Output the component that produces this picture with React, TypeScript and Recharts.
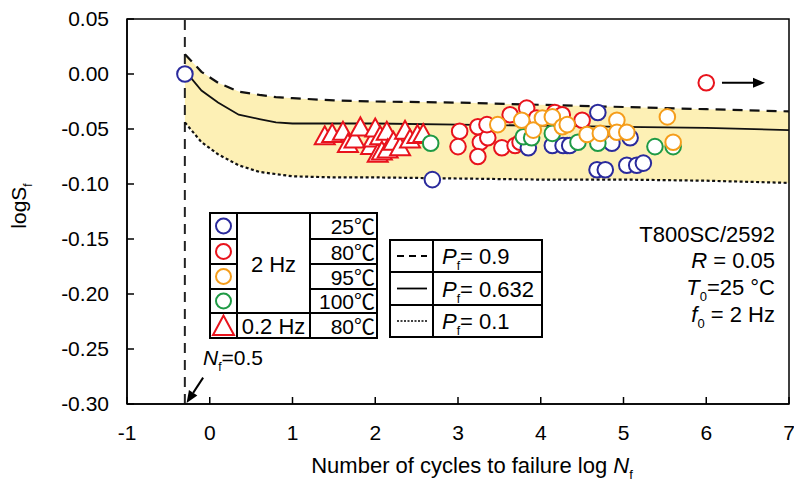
import React from 'react';
import {
  ComposedChart, Area, Line, Scatter, XAxis, YAxis, ReferenceLine, ReferenceArea,
} from 'recharts';

// Weibull fatigue-life bands (log Nf vs log Sf)
const curveLogN = [-0.3, -0.1, 0.1, 0.35, 0.6, 0.8, 1, 1.5, 2, 3, 4, 5, 6, 7];
const p90 = [0.018, 0.002, -0.008, -0.016, -0.019, -0.021, -0.022, -0.024, -0.025, -0.026, -0.028, -0.030, -0.032, -0.034];
const p632 = [0.003, -0.015, -0.026, -0.037, -0.041, -0.044, -0.045, -0.045, -0.045, -0.046, -0.047, -0.048, -0.049, -0.051];
const p10 = [-0.044, -0.062, -0.073, -0.083, -0.089, -0.091, -0.093, -0.094, -0.094, -0.095, -0.096, -0.096, -0.097, -0.099];

// test results [log Nf, log Sf]
const hz2T25: number[][] = [
  [-0.3, 0.0], [2.69, -0.096], [3.85, -0.067], [4.14, -0.065], [4.32, -0.065], [4.27, -0.065],
  [4.35, -0.065], [4.69, -0.035], [4.86, -0.063], [5.08, -0.058], [4.68, -0.087], [4.78, -0.087],
  [5.04, -0.083], [5.16, -0.083], [5.24, -0.081],
];
const hz2T80: number[][] = [
  [3.02, -0.052], [3.0, -0.066], [3.24, -0.048], [3.27, -0.062], [3.24, -0.075], [3.36, -0.058],
  [3.35, -0.046], [3.53, -0.067], [3.63, -0.037], [3.69, -0.065], [3.75, -0.062], [3.83, -0.031],
  [3.95, -0.040], [4.17, -0.035], [4.26, -0.037], [4.5, -0.042], [6.0, -0.008],
];
const hz2T95: number[][] = [
  [3.48, -0.046], [3.77, -0.042], [3.91, -0.051], [4.02, -0.040], [4.14, -0.039], [4.26, -0.048],
  [4.32, -0.046], [4.56, -0.055], [4.72, -0.054], [4.92, -0.042], [4.92, -0.053], [5.04, -0.053],
  [5.53, -0.039], [5.6, -0.062],
];
const hz2T100: number[][] = [
  [2.67, -0.063], [3.79, -0.057], [3.89, -0.058], [4.14, -0.054], [4.45, -0.062], [4.69, -0.063],
  [5.38, -0.066], [5.6, -0.066],
];
const hz02T80: number[][] = [
  [1.39, -0.057], [1.48, -0.055], [1.61, -0.053], [1.67, -0.064], [1.75, -0.060], [1.82, -0.049],
  [1.95, -0.066], [1.98, -0.059], [2.0, -0.050], [2.03, -0.073], [2.06, -0.057], [2.08, -0.071],
  [2.14, -0.053], [2.15, -0.069], [2.22, -0.062], [2.3, -0.067], [2.36, -0.052], [2.42, -0.060],
  [2.51, -0.056], [2.58, -0.055],
];

const xTicks = [-1, 0, 1, 2, 3, 4, 5, 6, 7];
const yTicks = [0.05, 0, -0.05, -0.1, -0.15, -0.2, -0.25, -0.3];

const BLUE = '#2a2a9c';
const RED = '#e8131c';
const ORANGE = '#f59d1b';
const GREEN = '#1f9a45';
const BAND = '#fdf0b5';
const FONT = '"Liberation Sans", Arial, "Noto Sans CJK SC", sans-serif';

const curveData = curveLogN.map((x, i) => ({
  x, p90: p90[i], p632: p632[i], p10: p10[i], band: [p10[i], p90[i]],
}));
const toPts = (arr: number[][]) => arr.map(([x, y]) => ({ x, y }));

const circleShape = (color: string) => (props: any) => (
  <circle cx={props.cx} cy={props.cy} r={7.8} fill="#fff" stroke={color} strokeWidth={2} />
);
const triShape = (props: any) => {
  const { cx, cy } = props;
  return (
    <polygon
      points={`${cx},${cy - 10.5} ${cx - 10},${cy + 7.5} ${cx + 10},${cy + 7.5}`}
      fill="#fff" stroke={RED} strokeWidth={2} strokeLinejoin="miter"
    />
  );
};

const arrowShape = (props: any) => {
  const { x1, y1, x2, y2 } = props;
  const ang = Math.atan2(y2 - y1, x2 - x1);
  const L = 12, W = 5;
  const bx = x2 - L * Math.cos(ang), by = y2 - L * Math.sin(ang);
  const px = -Math.sin(ang) * W, py = Math.cos(ang) * W;
  return (
    <g>
      <line x1={x1} y1={y1} x2={bx} y2={by} stroke="#000" strokeWidth={2} />
      <polygon points={`${x2},${y2} ${bx + px},${by + py} ${bx - px},${by - py}`} fill="#000" />
    </g>
  );
};

function Legends() {
  const rowsL = [213, 239, 264, 289, 313, 338];
  const temps = ['25℃', '80℃', '95℃', '100℃', '80℃'];
  const cols = [BLUE, RED, ORANGE, GREEN];
  const rowsR = [240, 272, 305, 337];
  const dashes = ['7 5', undefined, '2 1.5'];
  const pvals = ['0.9', '0.632', '0.1'];
  return (
    <svg width={794} height={483} style={{ position: 'absolute', left: 0, top: 0, pointerEvents: 'none' }}
      fontFamily={FONT}>
      {/* marker / frequency / temperature table */}
      <rect x={210} y={213} width={167} height={125} fill="#fff" stroke="#000" strokeWidth={2} />
      <line x1={237} y1={213} x2={237} y2={338} stroke="#000" strokeWidth={2} />
      <line x1={310} y1={213} x2={310} y2={338} stroke="#000" strokeWidth={2} />
      {rowsL.slice(1, 4).map((y) => (
        <g key={y}>
          <line x1={210} y1={y} x2={237} y2={y} stroke="#000" strokeWidth={2} />
          <line x1={310} y1={y} x2={377} y2={y} stroke="#000" strokeWidth={2} />
        </g>
      ))}
      <line x1={210} y1={313} x2={377} y2={313} stroke="#000" strokeWidth={2} />
      {cols.map((c, i) => (
        <circle key={c} cx={223.5} cy={(rowsL[i] + rowsL[i + 1]) / 2} r={7.5} fill="#fff" stroke={c} strokeWidth={2} />
      ))}
      <polygon points="223.5,315.5 213,335 234,335" fill="#fff" stroke={RED} strokeWidth={2} />
      {temps.map((t, i) => (
        <text key={i} x={375} y={(rowsL[i] + rowsL[i + 1]) / 2 + 8} textAnchor="end" fontSize={21}>{t}</text>
      ))}
      <text x={273.5} y={272} textAnchor="middle" fontSize={22}>2 Hz</text>
      <text x={273.5} y={334} textAnchor="middle" fontSize={22}>0.2 Hz</text>

      {/* probability line styles */}
      <rect x={390} y={240} width={152} height={97} fill="#fff" stroke="#000" strokeWidth={2} />
      <line x1={433} y1={240} x2={433} y2={337} stroke="#000" strokeWidth={2} />
      <line x1={390} y1={272} x2={542} y2={272} stroke="#000" strokeWidth={2} />
      <line x1={390} y1={305} x2={542} y2={305} stroke="#000" strokeWidth={2} />
      {pvals.map((p, i) => {
        const cy = (rowsR[i] + rowsR[i + 1]) / 2;
        return (
          <g key={p}>
            <line x1={397} y1={cy} x2={427} y2={cy} stroke="#000" strokeWidth={i === 2 ? 1.5 : 1.8}
              strokeDasharray={dashes[i]} />
            <text x={442} y={cy + 8} fontSize={22}>
              <tspan fontStyle="italic">P</tspan>
              <tspan fontSize={12} dy={6}>f</tspan>
              <tspan dy={-6}>= {p}</tspan>
            </text>
          </g>
        );
      })}

      {/* test conditions */}
      <g fontSize={22} textAnchor="end">
        <text x={775} y={242}>T800SC/2592</text>
        <text x={775} y={268}><tspan fontStyle="italic">R</tspan> = 0.05</text>
        <text x={775} y={295}>
          <tspan fontStyle="italic">T</tspan><tspan fontSize={13} dy={6}>0</tspan><tspan dy={-6}>=25 °C</tspan>
        </text>
        <text x={775} y={322}>
          <tspan fontStyle="italic">f</tspan><tspan fontSize={13} dy={6}>0</tspan><tspan dy={-6}> = 2 Hz</tspan>
        </text>
      </g>

      <text x={203} y={365} fontSize={21}>
        <tspan fontStyle="italic">N</tspan><tspan fontSize={12} dy={6}>f</tspan><tspan dy={-6}>=0.5</tspan>
      </text>

      {/* axis titles */}
      <text x={472} y={473} textAnchor="middle" fontSize={22}>
        Number of cycles to failure log <tspan fontStyle="italic">N</tspan><tspan fontSize={13} dy={6}>f</tspan>
      </text>
      <text transform="translate(26,206) rotate(-90)" textAnchor="middle" fontSize={21}>
        logS<tspan fontSize={12} dy={6}>f</tspan>
      </text>
    </svg>
  );
}

export default function App() {
  const tickStyle = { fill: '#000', fontSize: 21, fontFamily: FONT };
  return (
    <div style={{ position: 'absolute', left: 0, top: 0, width: 794, height: 483, background: '#fff' }}>
      <ComposedChart width={794} height={483} data={curveData}
        margin={{ top: 19, right: 5, left: 67, bottom: 49 }}>
        <XAxis dataKey="x" type="number" domain={[-1, 7]} ticks={xTicks} interval={0}
          allowDataOverflow tick={tickStyle} tickSize={-7} tickMargin={28} height={30}
          axisLine={{ stroke: '#000', strokeWidth: 1.5 }} tickLine={{ stroke: '#000', strokeWidth: 1.5 }} />
        <YAxis type="number" domain={[-0.3, 0.05]} ticks={yTicks} interval={0} allowDataOverflow
          tickFormatter={(v: number) => v.toFixed(2)} tick={tickStyle} tickSize={-7} tickMargin={25} width={60}
          axisLine={{ stroke: '#000', strokeWidth: 1.5 }} tickLine={{ stroke: '#000', strokeWidth: 1.5 }} />
        <Area dataKey="band" type="linear" fill={BAND} fillOpacity={1} stroke="none" isAnimationActive={false} />
        <ReferenceArea x1={-1} x2={7} y1={-0.3} y2={0.05} fill="none" stroke="#000" strokeWidth={1.5} />
        <ReferenceLine x={-0.301} stroke="#222" strokeWidth={2} strokeDasharray="10 7" />
        <Line dataKey="p90" type="linear" stroke="#111" strokeWidth={2.2} strokeDasharray="10 7" dot={false}
          isAnimationActive={false} />
        <Line dataKey="p632" type="linear" stroke="#111" strokeWidth={1.8} dot={false} isAnimationActive={false} />
        <Line dataKey="p10" type="linear" stroke="#111" strokeWidth={2.2} strokeDasharray="3 2.5" dot={false}
          isAnimationActive={false} />
        <Scatter data={toPts(hz02T80)} dataKey="y" shape={triShape} isAnimationActive={false} />
        <Scatter data={toPts(hz2T80)} dataKey="y" shape={circleShape(RED)} isAnimationActive={false} />
        <Scatter data={toPts(hz2T25)} dataKey="y" shape={circleShape(BLUE)} isAnimationActive={false} />
        <Scatter data={toPts(hz2T100)} dataKey="y" shape={circleShape(GREEN)} isAnimationActive={false} />
        <Scatter data={toPts(hz2T95)} dataKey="y" shape={circleShape(ORANGE)} isAnimationActive={false} />
        <ReferenceLine segment={[{ x: 6.19, y: -0.008 }, { x: 6.71, y: -0.008 }]} shape={arrowShape} />
        <ReferenceLine segment={[{ x: -0.08, y: -0.276 }, { x: -0.28, y: -0.299 }]} shape={arrowShape} />
      </ComposedChart>
      <Legends />
    </div>
  );
}
